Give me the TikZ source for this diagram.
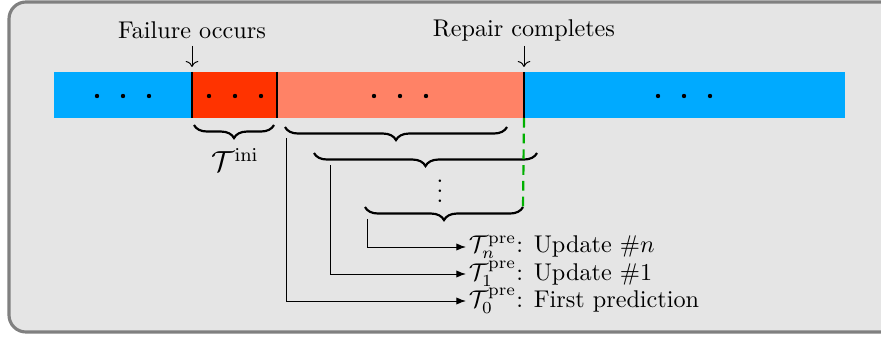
\documentclass[tikz,border=0pt]{standalone}
\usetikzlibrary{decorations.pathreplacing,arrows.meta,calc}
\definecolor{bgc}{HTML}{E5E5E5}
\definecolor{framec}{HTML}{808080}
\definecolor{bluec}{HTML}{00AAFF}
\definecolor{redc}{HTML}{FF3300}
\definecolor{salmonc}{HTML}{FF8266}
\definecolor{greenc}{HTML}{00B000}
\begin{document}
\begin{tikzpicture}[x=0.4132pt,y=-0.4132pt,
  sepline/.style={line width=1pt},
  brc/.style={decorate,decoration={brace,mirror,amplitude=5.4pt},line width=0.9pt},
  conn/.style={line width=0.4pt,-{Latex[length=4pt,width=3pt]}},
  dotc/.style={circle,fill=black,inner sep=0pt,minimum size=1.8pt},
  toplab/.style={inner sep=0pt,font=\normalsize},
  botlab/.style={anchor=west,inner sep=1pt,font=\normalsize}]
\useasboundingbox (0,0) rectangle (881,341);
\draw[fill=bgc,draw=framec,line width=1.3pt,rounded corners=7pt] (9,2) rectangle (905,332);
% bar
\fill[bluec] (54,72) rectangle (192,118);
\fill[redc] (192,72) rectangle (277,118);
\fill[salmonc] (277,72) rectangle (524,118);
\fill[bluec] (524,72) rectangle (845,118);
\coordinate (fTop) at (192,72);
\coordinate (fBot) at (192,118);
\coordinate (mTop) at (277,72);
\coordinate (mBot) at (277,118);
\coordinate (rTop) at (524,72);
\coordinate (rBot) at (524,118);
\draw[sepline] (fTop) -- (fBot);
\draw[sepline] (mTop) -- (mBot);
\draw[sepline] (rTop) -- (rBot);
% dots
\foreach \cx [count=\i] in {123,235,400,684}{
  \node[dotc] (d\i a) at (\cx-26,96) {};
  \node[dotc] (d\i b) at (\cx,96) {};
  \node[dotc] (d\i c) at (\cx+26,96) {};
}
% top labels
\node[toplab] (fail) at (192,30) {Failure occurs};
\node[toplab] (rep) at (524,30) {Repair completes};
\coordinate (fArr) at (192,67);
\coordinate (rArr) at (524,67);
\draw[line width=0.4pt,->] (fail.south |- 0,46) -- (fArr);
\draw[line width=0.4pt,->] (rep.south |- 0,46) -- (rArr);
% braces
\coordinate (b0l) at (194,125);
\coordinate (b0r) at (274,125);
\coordinate (b1l) at (285,127);
\coordinate (b1r) at (507,127);
\coordinate (b2l) at (314,153);
\coordinate (b2r) at (537,153);
\coordinate (b3l) at (365,207);
\coordinate (b3r) at (523,207);
\draw[brc] (b0l) -- (b0r);
\draw[brc] (b1l) -- (b1r);
\draw[brc] (b2l) -- (b2r);
\draw[brc] (b3l) -- (b3r);
\node (tini) at (235,160) {\large $\mathcal{T}^{\mathrm{ini}}$};
\node[inner sep=0pt] (vd) at (440,184) {$\vdots$};
% green dashed
\draw[greenc,line width=0.9pt,dash pattern=on 4pt off 2.5pt] (rBot) -- (b3r);
% labels
\node[botlab] (tn) at (466,247) {$\mathcal{T}_n^{\mathrm{pre}}$: Update \#$n$};
\node[botlab] (t1) at (466,274) {$\mathcal{T}_1^{\mathrm{pre}}$: Update \#1};
\node[botlab] (t0) at (466,301) {$\mathcal{T}_0^{\mathrm{pre}}$: First prediction};
\coordinate (s0) at (286,138);
\coordinate (s1) at (330,165);
\coordinate (s2) at (367,219);
\draw[conn] (s0) |- (t0.west);
\draw[conn] (s1) |- (t1.west);
\draw[conn] (s2) |- (tn.west);
\end{tikzpicture}
\end{document}
